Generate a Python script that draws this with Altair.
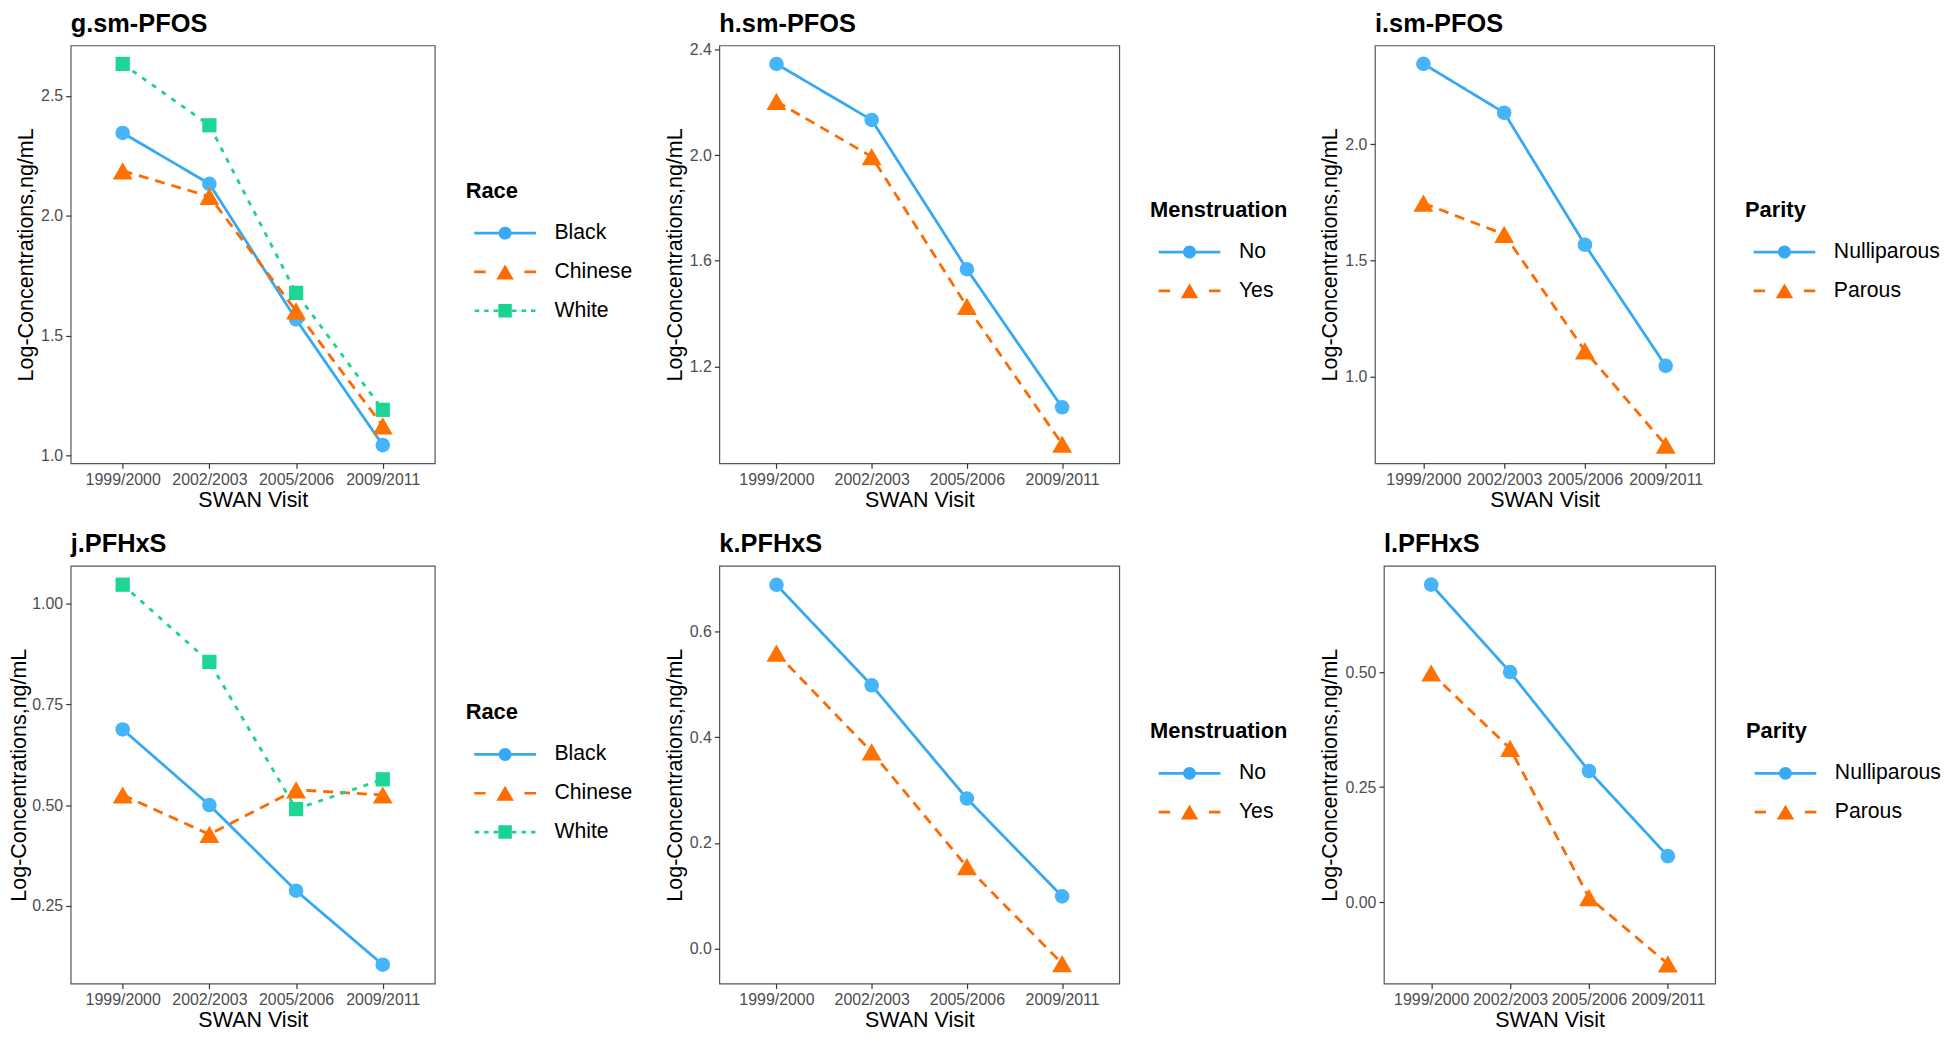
import altair as alt
import pandas as pd

# ---------------- data ----------------
VISITS = ["1999/2000", "2002/2003", "2005/2006", "2009/2011"]
RACE = ["Black", "Chinese", "White"]
MENSTRUATION = ["No", "Yes"]
PARITY = ["Nulliparous", "Parous"]

# g.sm-PFOS by race
G_BLACK = [2.345, 2.133, 1.567, 1.043]
G_CHINESE = [2.187, 2.080, 1.603, 1.123]
G_WHITE = [2.633, 2.377, 1.678, 1.190]
# h.sm-PFOS by menstruation
H_NO = [2.345, 2.133, 1.568, 1.045]
H_YES = [2.203, 1.994, 1.427, 0.906]
# i.sm-PFOS by parity
I_NULLIPAROUS = [2.347, 2.136, 1.567, 1.045]
I_PAROUS = [1.746, 1.612, 1.110, 0.703]
# j.PFHxS by race
J_BLACK = [0.688, 0.500, 0.287, 0.103]
J_CHINESE = [0.525, 0.427, 0.538, 0.525]
J_WHITE = [1.048, 0.856, 0.490, 0.564]
# k.PFHxS by menstruation
K_NO = [0.688, 0.498, 0.284, 0.099]
K_YES = [0.559, 0.372, 0.155, -0.028]
# l.PFHxS by parity
L_NULLIPAROUS = [0.690, 0.500, 0.285, 0.100]
L_PAROUS = [0.498, 0.334, 0.010, -0.134]

G_DOMAIN, G_TICKS = [0.967, 2.71], [1.0, 1.5, 2.0, 2.5]
H_DOMAIN, H_TICKS = [0.833, 2.415], [1.2, 1.6, 2.0, 2.4]
I_DOMAIN, I_TICKS = [0.625, 2.426], [1.0, 1.5, 2.0]
J_DOMAIN, J_TICKS = [0.056, 1.095], [0.25, 0.50, 0.75, 1.00]
K_DOMAIN, K_TICKS = [-0.066, 0.724], [0.0, 0.2, 0.4, 0.6]
L_DOMAIN, L_TICKS = [-0.177, 0.731], [0.00, 0.25, 0.50]

# ---------------- styles ----------------
FONT = "Liberation Sans"
LINE_COLORS = ["#35A9F3", "#FF6A00", "#19D38F"]
MARKER_COLORS = ["#45B4FA", "#FF7200", "#1DD693"]
DASHES = [[1, 0], [10, 7], [5, 7]]
MARKER_SHAPES = ["circle", "triangle-up", "square"]
MARKER_SIZES = [215, 400, 205]
PLOT_H = 420


def _rect(x0, x1, h=0.135):
    return f"M{x0},{-h}H{x1}V{h}H{x0}Z"


def _circle(r):
    return f"M{r},0A{r},{r} 0 1,1 {-r},0A{r},{r} 0 1,1 {r},0Z"


def _tri(w, h):
    return f"M0,{-h / 2}L{w / 2},{h / 2}L{-w / 2},{h / 2}Z"


def _square(s):
    return f"M{-s / 2},{-s / 2}H{s / 2}V{s / 2}H{-s / 2}Z"


# legend keys: line segment(s) plus marker, drawn as one symbol path
LEGEND_KEYS = [
    _rect(-3.1, 3.1) + _circle(0.65),
    _rect(-3.1, -1.95) + _rect(1.95, 3.1) + _tri(1.75, 1.5),
    _rect(-3.05, -2.6) + _rect(-2.1, -1.65) + _rect(-1.15, -0.7)
    + _rect(0.7, 1.15) + _rect(1.65, 2.1) + _rect(2.6, 3.05) + _square(1.35),
]


def panel(title, legend_title, groups, series, domain, ticks, fmt, width,
          legend_y, legend_gap=31, title_dy=0, y_title_pad=3):
    rows = []
    for g, vals in zip(groups, series):
        for v, val in zip(VISITS, vals):
            rows.append({"visit": v, "group": g, "value": val})
    df = pd.DataFrame(rows)
    n = len(groups)

    x = alt.X(
        "visit:N",
        sort=VISITS,
        scale=alt.Scale(type="point", padding=0.6, domain=VISITS),
        axis=alt.Axis(title="SWAN Visit", labelAngle=0),
    )
    y = alt.Y(
        "value:Q",
        scale=alt.Scale(domain=domain, nice=False, zero=False),
        axis=alt.Axis(values=ticks, format=fmt, title="Log-Concentrations,ng/mL",
                      titlePadding=y_title_pad),
    )

    leg = alt.Legend(
        title=legend_title,
        orient="none",
        legendX=width + legend_gap,
        legendY=legend_y,
        padding=0,
        titleFont=FONT,
        titleFontSize=22,
        titleFontWeight="bold",
        titleColor="black",
        titlePadding=20,
        labelFont=FONT,
        labelFontSize=21.3,
        labelColor="black",
        labelOffset=39,
        symbolOffset=29,
        symbolSize=400,
        symbolOpacity=1,
        symbolStrokeWidth=0,
        rowPadding=17,
    )
    # invisible layer whose only job is to carry the legend
    legend_layer = alt.Chart(df).mark_point(filled=True, opacity=0).encode(
        color=alt.Color(
            "group:N", scale=alt.Scale(domain=groups, range=LINE_COLORS[:n]), legend=leg
        ),
        shape=alt.Shape(
            "group:N", scale=alt.Scale(domain=groups, range=LEGEND_KEYS[:n]), legend=leg
        ),
    )

    lines = [
        alt.Chart(df)
        .transform_filter(alt.datum.group == g)
        .mark_line(strokeWidth=2.8, color=LINE_COLORS[i], strokeDash=DASHES[i])
        .encode(x=x, y=y)
        for i, g in enumerate(groups)
    ]
    points = [
        alt.Chart(df)
        .transform_filter(alt.datum.group == g)
        .mark_point(
            filled=True,
            opacity=1,
            shape=MARKER_SHAPES[i],
            size=MARKER_SIZES[i],
            color=MARKER_COLORS[i],
        )
        .encode(x=x, y=y)
        for i, g in enumerate(groups)
    ]

    return alt.layer(legend_layer, *lines, *points).properties(
        width=width, height=PLOT_H, title=alt.Title(title, dy=title_dy)
    )


INDEPENDENT = dict(x="independent", y="independent", color="independent",
                   shape="independent")

row1 = alt.hconcat(
    panel("g.sm-PFOS", "Race", RACE, [G_BLACK, G_CHINESE, G_WHITE],
          G_DOMAIN, G_TICKS, ".1f", 366, 136),
    panel("h.sm-PFOS", "Menstruation", MENSTRUATION, [H_NO, H_YES],
          H_DOMAIN, H_TICKS, ".1f", 402, 155, title_dy=4),
    panel("i.sm-PFOS", "Parity", PARITY, [I_NULLIPAROUS, I_PAROUS],
          I_DOMAIN, I_TICKS, ".1f", 341, 155),
    spacing=30,
).resolve_scale(**INDEPENDENT)
row2 = alt.hconcat(
    panel("j.PFHxS", "Race", RACE, [J_BLACK, J_CHINESE, J_WHITE],
          J_DOMAIN, J_TICKS, ".2f", 366, 137, y_title_pad=1),
    panel("k.PFHxS", "Menstruation", MENSTRUATION, [K_NO, K_YES],
          K_DOMAIN, K_TICKS, ".1f", 402, 156),
    panel("l.PFHxS", "Parity", PARITY, [L_NULLIPAROUS, L_PAROUS],
          L_DOMAIN, L_TICKS, ".2f", 333, 156),
    spacing=30,
).resolve_scale(**INDEPENDENT)

chart = (
    alt.concat(row1, row2, columns=1, align="none", spacing=19)
    .resolve_scale(**INDEPENDENT)
    .properties(padding={"left": 0, "top": 0, "right": 0, "bottom": 0}, background="white")
    .configure_view(stroke="#555555", strokeWidth=1.2)
    .configure_axis(
        labelFont=FONT, labelFontSize=16, labelColor="#4D4D4D",
        titleFont=FONT, titleFontSize=21.6, titleFontWeight="normal", titleColor="black",
        tickColor="#333333", tickSize=5, tickWidth=1.2,
        domain=False, grid=False, labelPadding=3,
    )
    .configure_axisX(titlePadding=2)
    .configure_title(
        font=FONT, fontSize=25.5, fontWeight="bold", anchor="start", frame="group",
        color="black", offset=8, baseline="alphabetic",
    )
)

chart.save("out.html", embed_options={"renderer": "svg", "actions": False})
